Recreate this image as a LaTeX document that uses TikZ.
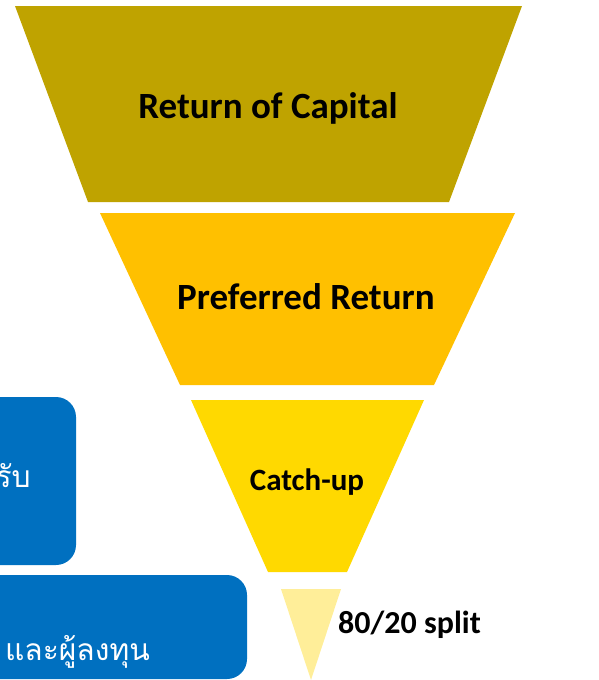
\documentclass[tikz,border=0pt]{standalone}
\usepackage{fontspec}
\setmainfont{Carlito}
\newfontfamily\thaifont[Script=Thai]{Loma}
\usetikzlibrary{positioning}
\definecolor{capolive}{RGB}{191,163,0}
\definecolor{prefgold}{RGB}{255,192,0}
\definecolor{catchyellow}{RGB}{255,217,0}
\definecolor{splitpale}{RGB}{255,238,153}
\definecolor{boxblue}{RGB}{0,112,192}

\begin{document}
\begin{tikzpicture}[x=1pt,y=-1pt,
    tierlabel/.style={text=black,inner sep=0pt},
    infobox/.style={fill=boxblue,rounded corners=20pt},
    infotext/.style={text=white,inner sep=0pt,anchor=base east,
      font=\thaifont\fontsize{30}{36}\selectfont}]
  \useasboundingbox (0,0) rectangle (598,680);

  % funnel
  \fill[capolive] (15,6) -- (522,6) -- (449,202) -- (88,202) -- cycle;
  \fill[prefgold] (100,213) -- (515,213) -- (434,385) -- (180,385) -- cycle;
  \fill[catchyellow] (191,400) -- (424,400) -- (347,572) -- (268,572) -- cycle;
  \fill[splitpale] (281,589) -- (341,589) -- (311,680) -- cycle;

  \node[tierlabel,font=\bfseries\fontsize{37}{44}\selectfont] (capital) at (268,108) {Return of Capital};
  \node[tierlabel,font=\bfseries\fontsize{37}{44}\selectfont] (preferred) at (306,297) {Preferred Return};
  \node[tierlabel,font=\bfseries\fontsize{31}{36}\selectfont] (catchup) at (307,482) {Catch-up};
  \node[tierlabel,font=\bfseries\fontsize{32}{38}\selectfont,anchor=west] (split) at (338,625) {80/20 split};

  % blue boxes on the left
  \fill[infobox] (-60,397) rectangle (76,565);
  \fill[infobox] (-60,575) rectangle (247,679);
  \node[infotext] (gpshare) at (31,487) {ผู้จัดการกองทุนได้รับ};
  \node[infotext] (lpshare) at (150,660) {แบ่งระหว่างผู้จัดการกองทุนที่ และผู้ลงทุน};
\end{tikzpicture}
\end{document}
